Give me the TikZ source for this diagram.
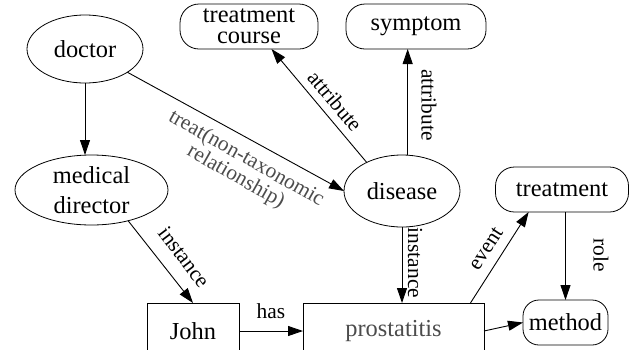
\documentclass[tikz,border=0pt]{standalone}
\usepackage{fontspec}
\setmainfont{Liberation Serif}
\usetikzlibrary{arrows.meta,shapes.geometric}
\begin{document}
\begin{tikzpicture}[x=1bp,y=-1bp,
  every node/.style={inner sep=0pt,outer sep=0pt},
  nfont/.style={font=\fontsize{24.5}{30}\selectfont},
  lfont/.style={font=\fontsize{21.5}{21}\selectfont},
  ell/.style={draw,ellipse,nfont,inner sep=-4bp,line width=0.8bp},
  rbox/.style={draw,rectangle,rounded corners=19bp,nfont,line width=0.8bp},
  sbox/.style={draw,rectangle,nfont,line width=0.8bp},
  edge/.style={line width=0.9bp,-{Triangle[length=15bp,width=10bp]}},
  lbl/.style={lfont,align=center}]
\useasboundingbox (0,0) rectangle (632,349);
\clip (0,0) rectangle (632,349);
% nodes
\node[ell,minimum width=116bp,minimum height=68bp] (doctor) at (85,49) {doctor};
\node[ell,minimum width=153bp,minimum height=70bp,align=center] (md) at (91.5,190) {medical\\director};
\node[ell,minimum width=116bp,minimum height=72bp] (disease) at (402,191) {disease};
\node[rbox,minimum width=138bp,minimum height=45bp,align=center,font=\fontsize{24.5}{21}\selectfont] (tc) at (249,26.5) {treatment\\course};
\node[rbox,minimum width=140bp,minimum height=45bp] (symptom) at (416,26.5) {symptom};
\node[rbox,minimum width=133bp,minimum height=45bp] (treatment) at (562,189.5) {treatment};
\node[rbox,minimum width=85bp,minimum height=45bp,rounded corners=16bp] (method) at (565.5,322.5) {method};
\node[sbox,minimum width=92bp,minimum height=56bp] (john) at (193,331) {John};
\node[sbox,minimum width=181bp,minimum height=56bp,text=black!70] (prost) at (393.5,331) {prostatitis};
% edges
\draw[edge] (doctor.south) -- (doctor.south |- md.north);
\draw[edge] (doctor) -- (disease.west);
\draw[edge] (md.-40) -- (john.north);
\draw[edge] (disease.141) -- (tc.-45);
\draw[edge] (disease.81) -- (disease.81 |- symptom.south);
\draw[edge] (disease.south) -- (disease.south |- prost.north);
\draw[edge] (john.east) -- (prost.west);
\draw[edge] (prost.20) -- (treatment.214);
\draw[edge] (method.north |- treatment.south) -- (method.north);
\draw[edge] (prost.east) -- (method.west);
% labels
\node[lbl,rotate=-29.5,text=black!70] (ltreat) at (241,168) {treat(non-taxonomic\\relationship)};
\node[lbl,rotate=-49.6] (lattr1) at (335,101) {attribute};
\node[lbl,rotate=-90] (lattr2) at (429,105) {attribute};
\node[lbl,rotate=-52.8] (linst1) at (184,257) {instance};
\node[lbl,rotate=-90] (linst2) at (415,263) {instance};
\node[lbl] (lhas) at (271,311) {has};
\node[lbl,rotate=56.8] (levent) at (486,249) {event};
\node[lbl,rotate=-90] (lrole) at (601,255) {role};
\end{tikzpicture}
\end{document}
